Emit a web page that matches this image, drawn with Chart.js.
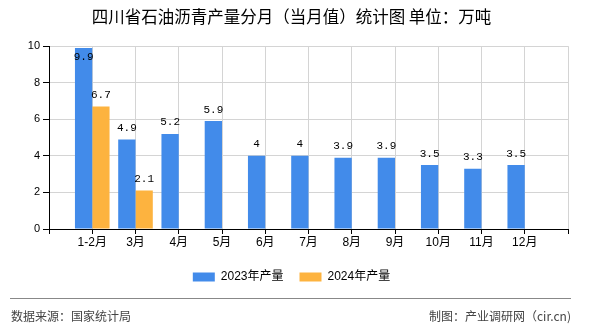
<!DOCTYPE html>
<html><head><meta charset="utf-8">
<script src="https://cdn.jsdelivr.net/npm/chart.js@4.4.0/dist/chart.umd.min.js"></script>
<style>html,body{margin:0;padding:0;background:#fff}#wrap{width:590px;height:330px;position:relative}</style>
</head><body><div id="wrap"><canvas id="c" width="590" height="330"></canvas></div>
<script>
const titleText = '四川省石油沥青产量分月（当月值）统计图 单位：万吨';
const months = ['1-2月','3月','4月','5月','6月','7月','8月','9月','10月','11月','12月'];
const series2023 = [9.9,4.9,5.2,5.9,4,4,3.9,3.9,3.5,3.3,3.5];
const series2024 = [6.7,2.1,null,null,null,null,null,null,null,null,null];
const seriesNames = ['2023年产量','2024年产量'];
const yTicks = [0,2,4,6,8,10];
const sourceText = '数据来源：国家统计局';
const creditText = '制图：产业调研网（cir.cn)';

const BLUE = '#428bea', ORANGE = '#fdb33f';
const SANS = '"Liberation Sans", "Noto Sans CJK SC", sans-serif';
const CJK = '"Noto Sans CJK SC", "Liberation Sans", sans-serif';

const labels = [''].concat(months, ['']);
const pad = arr => [null].concat(arr, [null]);

const valueLabels = {
  id: 'valueLabels',
  afterDatasetsDraw(chart) {
    const ctx = chart.ctx, top = chart.chartArea.top;
    ctx.save();
    ctx.font = '11px "Liberation Mono", "DejaVu Sans Mono", monospace';
    ctx.fillStyle = '#000';
    ctx.textAlign = 'center';
    ctx.textBaseline = 'alphabetic';
    chart.data.datasets.forEach((ds, di) => {
      const meta = chart.getDatasetMeta(di);
      meta.data.forEach((el, i) => {
        const v = ds.data[i];
        if (v === null || v === undefined) return;
        let y = el.y - 8.5;
        if (y - 8 < top + 5) y = top + 14;
        ctx.fillText(String(v), el.x, y);
      });
    });
    ctx.restore();
  }
};

const footer = {
  id: 'footer',
  afterDraw(chart) {
    const ctx = chart.ctx;
    ctx.save();
    ctx.strokeStyle = '#888';
    ctx.lineWidth = 1.2;
    ctx.beginPath();
    ctx.moveTo(10, 298.5);
    ctx.lineTo(571, 298.5);
    ctx.stroke();
    ctx.fillStyle = '#444';
    ctx.font = '12px ' + CJK;
    ctx.textBaseline = 'middle';
    ctx.textAlign = 'left';
    ctx.fillText(sourceText, 11, 316);
    ctx.textAlign = 'right';
    ctx.fillText(creditText, 571, 316);
    ctx.restore();
  }
};

const whiteBg = {
  id: 'whiteBg',
  beforeDraw(chart) {
    const ctx = chart.ctx;
    ctx.save();
    ctx.fillStyle = '#fff';
    ctx.fillRect(0, 0, chart.width, chart.height);
    ctx.restore();
  }
};

new Chart(document.getElementById('c'), {
  type: 'bar',
  data: {
    labels: labels,
    datasets: [
      { label: seriesNames[0], data: pad(series2023), backgroundColor: BLUE, borderWidth: 0 },
      { label: seriesNames[1], data: pad(series2024), backgroundColor: ORANGE, borderWidth: 0 }
    ]
  },
  options: {
    responsive: false,
    animation: false,
    devicePixelRatio: 1,
    layout: { padding: { left: 15, right: 22, top: 0, bottom: 37 } },
    datasets: { bar: { categoryPercentage: 0.8, barPercentage: 1 } },
    plugins: {
      title: {
        display: true, text: titleText, color: '#000',
        font: { family: CJK, size: 16.5, weight: 'normal', lineHeight: 1.1 },
        padding: { top: 8, bottom: 20 }
      },
      legend: {
        position: 'bottom',
        labels: { boxWidth: 22, boxHeight: 9, padding: 16, color: '#000', font: { family: SANS, size: 12 } }
      },
      tooltip: { enabled: false }
    },
    scales: {
      x: {
        type: 'category',
        offset: false,
        grid: { display: true, offset: false, color: '#d4d4d4', tickColor: '#000', tickLength: 5, lineWidth: 1 },
        border: { display: true, color: '#000', width: 1 },
        ticks: { color: '#000', font: { family: SANS, size: 12 }, padding: 1, maxRotation: 0, autoSkip: false },
        afterFit(s) { s.height = 26; }
      },
      y: {
        min: 0, max: 10,
        afterBuildTicks(s) { s.ticks = yTicks.map(v => ({ value: v })); },
        grid: { color: '#d4d4d4', tickColor: '#000', tickLength: 6, lineWidth: 1 },
        border: { display: true, color: '#000', width: 1 },
        ticks: { color: '#000', font: { family: SANS, size: 11 }, padding: 3 },
        afterFit(s) { s.width = 34; }
      }
    }
  },
  plugins: [whiteBg, valueLabels, footer]
});
</script>
</body></html>
